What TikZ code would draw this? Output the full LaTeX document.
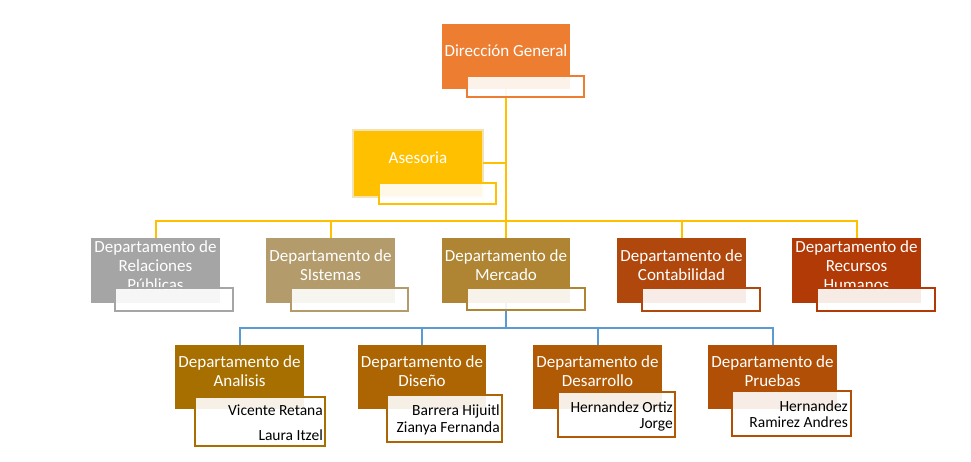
\documentclass[tikz,border=0pt]{standalone}
\usepackage{fontspec}
\setmainfont{Carlito}
\definecolor{cDir}{HTML}{ED7D31}
\definecolor{cAse}{HTML}{FFC000}
\definecolor{cAseB}{HTML}{F3E2B4}
\definecolor{cRel}{HTML}{A5A5A5}
\definecolor{cSis}{HTML}{B39B6B}
\definecolor{cMer}{HTML}{AF8432}
\definecolor{cCon}{HTML}{B0470D}
\definecolor{cRH}{HTML}{B13A06}
\definecolor{cAna}{HTML}{A66F00}
\definecolor{cDis}{HTML}{AC6502}
\definecolor{cDes}{HTML}{B05A05}
\definecolor{cPru}{HTML}{B04F05}
\definecolor{cYel}{HTML}{FFC000}
\definecolor{cBlu}{HTML}{5B9BD5}
\begin{document}
\begin{tikzpicture}[x=1pt,y=-1pt,
  mainbox/.style={anchor=north west, inner sep=0pt, outer sep=0pt, draw=none},
  tbox/.style={anchor=north west, inner sep=0pt, outer sep=0pt, line width=1.8pt, fill=white, fill opacity=0.9},
  ttl/.style={inner sep=0pt, text=white, align=center, font=\fontsize{17}{19}\selectfont},
  nm/.style={inner sep=0pt, text=black, font=\fontsize{15.5}{17}\selectfont},
  yline/.style={draw=cYel, line width=2pt},
  bline/.style={draw=cBlu, line width=2pt}]
\useasboundingbox (0,0) rectangle (971,462);
\fill[white] (0,0) rectangle (971,462);

% junction coordinates
\coordinate (j1) at (506,221);
\coordinate (j2) at (506,328);

% ---------- level 0/1 boxes ----------
\node[mainbox, fill=cDir, minimum width=128pt, minimum height=65pt] (dir) at (442,24) {};
\node[mainbox, fill=cAse, draw=cAseB, line width=1.5pt, minimum width=130pt, minimum height=67pt] (ase) at (353,130) {};
\node[mainbox, fill=cRel, minimum width=129pt, minimum height=65pt] (rel) at (91,238) {};
\node[mainbox, fill=cSis, minimum width=129pt, minimum height=65pt] (sis) at (266,238) {};
\node[mainbox, fill=cMer, minimum width=128pt, minimum height=65pt] (mer) at (442,238) {};
\node[mainbox, fill=cCon, minimum width=129pt, minimum height=65pt] (con) at (617,238) {};
\node[mainbox, fill=cRH, minimum width=129pt, minimum height=65pt] (rh) at (792,238) {};
\node[mainbox, fill=cAna, minimum width=129pt, minimum height=64pt] (ana) at (175,345) {};
\node[mainbox, fill=cDis, minimum width=128pt, minimum height=64pt] (dis) at (358,345) {};
\node[mainbox, fill=cDes, minimum width=129pt, minimum height=64pt] (des) at (533,345) {};
\node[mainbox, fill=cPru, minimum width=129pt, minimum height=64pt] (pru) at (708,345) {};

% ---------- connectors ----------
\draw[yline] (dir.center |- dir.south) -- (j1);
\draw[yline] (ase.east) -- (ase.east -| j1);
\draw[yline] (rel.north) |- (j1) -| (rh.north);
\draw[yline] (sis.north) -- (sis.north |- j1);
\draw[yline] (mer.north) -- (j1);
\draw[yline] (con.north) -- (con.north |- j1);
\draw[bline] (mer.center |- mer.south) -- (j2);
\draw[bline] (ana.north) |- (j2) -| (pru.north);
\draw[bline] (dis.north) -- (dis.north |- j2);
\draw[bline] (des.north) -- (des.north |- j2);

% ---------- titles ----------
\node[ttl, anchor=base] (dirL) at (506,57) {Dirección General};
\node[ttl, anchor=base] (aseL) at (418,164) {Asesoria};
\node[ttl, anchor=base] (relL) at (155.5,290) {Departamento de\\Relaciones\\Públicas};
\node[ttl, anchor=base] (sisL) at (330.5,280) {Departamento de\\SIstemas};
\node[ttl, anchor=base] (merL) at (506,280) {Departamento de\\Mercado};
\node[ttl, anchor=base] (conL) at (681.5,280) {Departamento de\\Contabilidad};
\node[ttl, anchor=base] (rhL) at (856.5,290) {Departamento de\\Recursos\\Humanos};
\node[ttl, anchor=base] (anaL) at (239.5,386) {Departamento de\\Analisis};
\node[ttl, anchor=base] (disL) at (422,386) {Departamento de\\Diseño};
\node[ttl, anchor=base] (desL) at (597.5,386) {Departamento de\\Desarrollo};
\node[ttl, anchor=base] (pruL) at (772.5,386) {Departamento de\\Pruebas};

% ---------- text boxes ----------
\node[tbox, draw=cDir, minimum width=117pt, minimum height=21pt] (dirT) at (467,76) {};
\node[tbox, draw=cAse, minimum width=117pt, minimum height=21pt] (aseT) at (379,183) {};
\node[tbox, draw=cRel, minimum width=118pt, minimum height=23pt] (relT) at (115,288) {};
\node[tbox, draw=cSis, minimum width=117pt, minimum height=23pt] (sisT) at (291,288) {};
\node[tbox, draw=cMer, minimum width=118pt, minimum height=22pt] (merT) at (467,288) {};
\node[tbox, draw=cCon, minimum width=118pt, minimum height=23pt] (conT) at (642,288) {};
\node[tbox, draw=cRH, minimum width=118pt, minimum height=23pt] (rhT) at (817,288) {};
\node[tbox, draw=cAna, minimum width=130pt, minimum height=49pt] (anaT) at (195,397) {};
\node[tbox, draw=cDis, minimum width=115pt, minimum height=47pt] (disT) at (387,395) {};
\node[tbox, draw=cDes, minimum width=117pt, minimum height=45pt] (desT) at (558,392) {};
\node[tbox, draw=cPru, minimum width=119pt, minimum height=45pt] (pruT) at (732,391) {};

% ---------- names ----------
\node[nm, anchor=base east] (anaN1) at (323,415) {Vicente Retana};
\node[nm, anchor=base east] (anaN2) at (323,440) {Laura Itzel};
\node[nm, anchor=base east] (disN1) at (500,415) {Barrera Hijuitl};
\node[nm, anchor=base east] (disN2) at (500,432) {Zianya Fernanda};
\node[nm, anchor=base east] (desN1) at (673,412) {Hernandez Ortiz};
\node[nm, anchor=base east] (desN2) at (673,428) {Jorge};
\node[nm, anchor=base east] (pruN1) at (848,411) {Hernandez};
\node[nm, anchor=base east] (pruN2) at (848,427) {Ramirez Andres};
\end{tikzpicture}
\end{document}
